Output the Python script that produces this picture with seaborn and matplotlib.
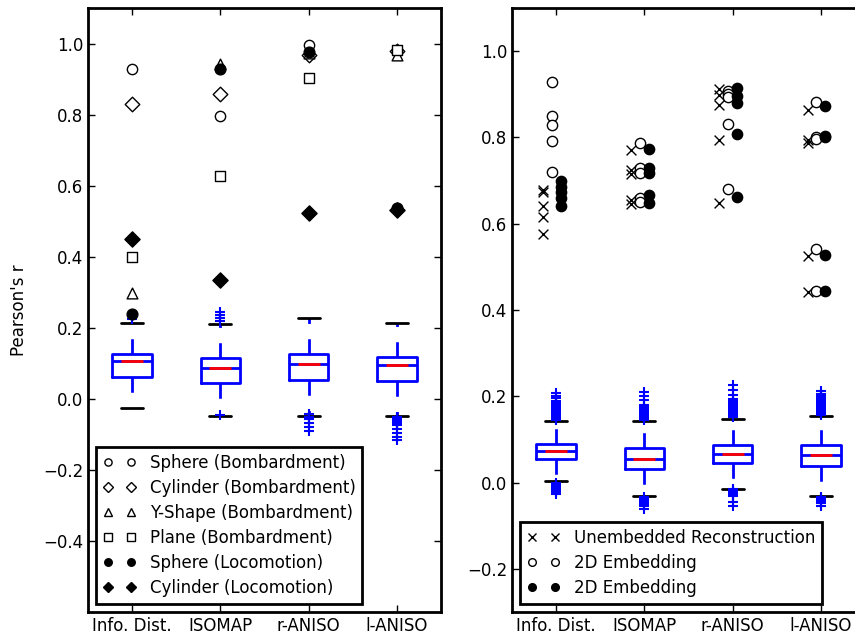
import numpy as np
import pandas as pd
import seaborn as sns
import matplotlib
matplotlib.use('Agg')
import matplotlib.pyplot as plt
from matplotlib.lines import Line2D

methods = ['Info. Dist.', 'ISOMAP', 'r-ANISO', 'l-ANISO']

# left panel: one score per method for each test shape
shape_names = ['Sphere (Bombardment)', 'Cylinder (Bombardment)', 'Y-Shape (Bombardment)',
               'Plane (Bombardment)', 'Sphere (Locomotion)', 'Cylinder (Locomotion)']
sphere_bomb = [0.929, 0.795, 0.997, 0.980]
cylinder_bomb = [0.831, 0.858, 0.969, 0.978]
yshape_bomb = [0.297, 0.941, 0.972, 0.969]
plane_bomb = [0.398, 0.626, 0.903, 0.983]
sphere_loco = [0.240, 0.927, 0.977, 0.538]
cylinder_loco = [0.450, 0.334, 0.522, 0.532]

# left panel null distribution (box stats)
nullL_q1 = [0.061, 0.045, 0.054, 0.051]
nullL_med = [0.105, 0.087, 0.098, 0.095]
nullL_q3 = [0.127, 0.115, 0.125, 0.119]
nullL_lo = [-0.025, -0.049, -0.049, -0.049]
nullL_hi = [0.214, 0.210, 0.226, 0.212]
nullL_fliers = [[0.224, 0.232],
                [0.220, 0.228, 0.236, 0.245, -0.046],
                [-0.043, -0.050, -0.057, -0.068, -0.080, -0.092],
                [-0.050, -0.053, -0.056, -0.059, -0.062, -0.065, -0.068, -0.071,
                 -0.075, -0.086, -0.095, -0.108, -0.117]]

# right panel: five runs per method
series_names = ['Unembedded Reconstruction', '2D Embedding', '2D Embedding']
unembedded = [[0.679, 0.674, 0.642, 0.615, 0.577],
              [0.771, 0.725, 0.715, 0.655, 0.646],
              [0.912, 0.898, 0.876, 0.795, 0.647],
              [0.864, 0.795, 0.788, 0.524, 0.441]]
embed_open = [[0.929, 0.850, 0.828, 0.792, 0.720],
              [0.787, 0.728, 0.718, 0.660, 0.650],
              [0.907, 0.900, 0.893, 0.831, 0.680],
              [0.881, 0.800, 0.797, 0.542, 0.444]]
embed_filled = [[0.698, 0.686, 0.674, 0.660, 0.640],
                [0.774, 0.730, 0.718, 0.667, 0.648],
                [0.915, 0.897, 0.880, 0.809, 0.663],
                [0.873, 0.803, 0.800, 0.528, 0.444]]

# right panel null distribution (box stats)
nullR_q1 = [0.055, 0.032, 0.045, 0.039]
nullR_med = [0.072, 0.055, 0.065, 0.063]
nullR_q3 = [0.090, 0.079, 0.086, 0.086]
nullR_lo = [0.004, -0.031, -0.014, -0.031]
nullR_hi = [0.142, 0.142, 0.148, 0.155]
nullR_fliers = [[0.145, 0.148, 0.151, 0.154, 0.157, 0.160, 0.163, 0.166, 0.169, 0.172,
                 0.175, 0.178, 0.181, 0.184, 0.187, 0.190, 0.195, 0.200, 0.207,
                 -0.002, -0.005, -0.008, -0.011, -0.014, -0.018, -0.022, -0.027],
                [0.145, 0.148, 0.151, 0.154, 0.157, 0.160, 0.163, 0.166, 0.169, 0.172,
                 0.176, 0.180, 0.192, 0.200, 0.210,
                 -0.034, -0.037, -0.040, -0.043, -0.046, -0.050, -0.055, -0.061],
                [0.151, 0.154, 0.157, 0.160, 0.163, 0.166, 0.169, 0.172, 0.175, 0.178,
                 0.181, 0.184, 0.187, 0.190, 0.193, 0.204, 0.215, 0.227,
                 -0.016, -0.019, -0.022, -0.025, -0.028, -0.031, -0.045, -0.054],
                [0.157, 0.160, 0.163, 0.166, 0.169, 0.172, 0.175, 0.178, 0.181, 0.184,
                 0.187, 0.190, 0.193, 0.196, 0.199, 0.202, 0.206, 0.212,
                 -0.033, -0.036, -0.039, -0.042, -0.045, -0.048, -0.055]]

sns.set_style('ticks')
plt.rcParams.update({
    'font.family': ['DejaVu Sans'],
    'font.size': 12,
    'text.color': 'black',
    'axes.labelcolor': 'black',
    'axes.linewidth': 2,
    'xtick.direction': 'in', 'ytick.direction': 'in',
    'xtick.top': True, 'ytick.right': True,
    'xtick.major.size': 5, 'ytick.major.size': 5,
    'xtick.major.width': 1, 'ytick.major.width': 1,
    'xtick.labelsize': 12, 'ytick.labelsize': 12,
    'xtick.color': 'black', 'ytick.color': 'black',
    'axes.edgecolor': 'black',
})


def null_boxes(ax, q1, med, q3, lo, hi, fliers):
    '''draw the null distributions the old-matplotlib way'''
    stats = []
    for i in range(len(methods)):
        stats.append(dict(q1=q1[i], med=med[i], q3=q3[i], whislo=lo[i], whishi=hi[i],
                          fliers=fliers[i]))
    pos = np.arange(1, len(methods) + 1)
    ax.bxp(stats, positions=pos, widths=0.45, capwidths=0.25,
           boxprops=dict(color='blue', lw=2),
           whiskerprops=dict(color='blue', lw=2, linestyle=(0, (5.5, 5.5))),
           capprops=dict(color='black', lw=2),
           medianprops=dict(color='blue', lw=2),
           flierprops=dict(marker='+', markeredgecolor='blue', markersize=7, mew=1.5),
           manage_ticks=False)
    ax.hlines(med, pos - 0.125, pos + 0.125, color='red', lw=2, zorder=5)


def legend_box(ax, handles):
    leg = ax.legend(handles=handles, loc='lower left', numpoints=2, fontsize=12,
                    fancybox=False, framealpha=1, edgecolor='black', labelspacing=0.42,
                    borderaxespad=0.5)
    leg.get_frame().set_linewidth(2)


fig = plt.figure(figsize=(8.55, 6.38), dpi=100)
axL = fig.add_axes([0.1029, 0.0408, 0.4129, 0.9467])
axR = fig.add_axes([0.5988, 0.0408, 0.4129, 0.9467])

# ---- left panel
null_boxes(axL, nullL_q1, nullL_med, nullL_q3, nullL_lo, nullL_hi, nullL_fliers)

shape_vals = [sphere_bomb, cylinder_bomb, yshape_bomb, plane_bomb, sphere_loco, cylinder_loco]
shape_styles = [('o', 'white', 55), ('D', 'white', 55), ('^', 'white', 60),
                ('s', 'white', 55), ('o', 'black', 60), ('D', 'black', 60)]
rows = []
for name, vals in zip(shape_names, shape_vals):
    for i, v in enumerate(vals):
        rows.append({'shape': name, 'x': i + 1, 'r': v})
dfL = pd.DataFrame(rows)

handles = []
for name, (m, fc, s) in zip(shape_names, shape_styles):
    sub = dfL[dfL['shape'] == name]
    sns.scatterplot(data=sub, x='x', y='r', marker=m, s=s, color=fc,
                    edgecolor='black', linewidth=1, ax=axL, zorder=6, legend=False)
    handles.append(Line2D([], [], ls='none', marker=m, markerfacecolor=fc,
                          markeredgecolor='black', markersize=np.sqrt(s) * 0.7, label=name))

axL.set_xlim(0.5, 4.5)
axL.set_ylim(-0.6, 1.1)
axL.set_yticks([-0.4, -0.2, 0.0, 0.2, 0.4, 0.6, 0.8, 1.0])
axL.set_xticks([1, 2, 3, 4])
axL.set_xticklabels(methods)
axL.set_xlabel('')
axL.set_ylabel("Pearson's r", fontsize=12, labelpad=11)
legend_box(axL, handles)

# ---- right panel
null_boxes(axR, nullR_q1, nullR_med, nullR_q3, nullR_lo, nullR_hi, nullR_fliers)

run_vals = [unembedded, embed_open, embed_filled]
run_styles = [('x', 'black', -0.15), ('o', 'white', -0.05), ('o', 'black', 0.05)]
handles = []
for name, vals, (m, fc, dx) in zip(series_names, run_vals, run_styles):
    rows = []
    for i, col in enumerate(vals):
        for v in col:
            rows.append({'x': i + 1 + dx, 'r': v})
    sub = pd.DataFrame(rows)
    if m == 'x':
        sns.scatterplot(data=sub, x='x', y='r', marker='x', s=50, color='black',
                        linewidth=1, ax=axR, zorder=6, legend=False)
    else:
        sns.scatterplot(data=sub, x='x', y='r', marker=m, s=55, color=fc,
                        edgecolor='black', linewidth=1, ax=axR, zorder=6, legend=False)
    handles.append(Line2D([], [], ls='none', marker=m, markerfacecolor=fc,
                          markeredgecolor='black', markersize=5.5, label=name))

axR.set_xlim(0.5, 4.5)
axR.set_ylim(-0.3, 1.1)
axR.set_yticks([-0.2, 0.0, 0.2, 0.4, 0.6, 0.8, 1.0])
axR.set_xticks([1, 2, 3, 4])
axR.set_xticklabels(methods)
axR.set_xlabel('')
axR.set_ylabel('')
legend_box(axR, handles)

fig.savefig('out.png', dpi=100)
